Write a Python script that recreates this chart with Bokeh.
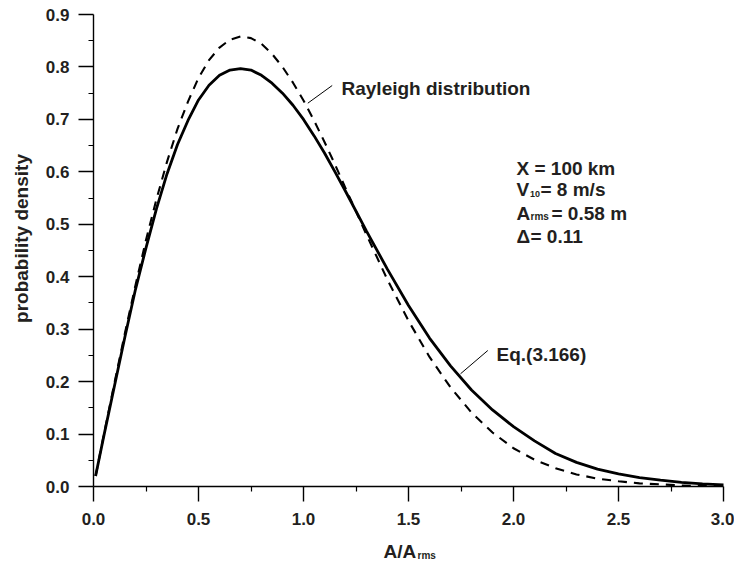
import math
from bokeh.plotting import figure
from bokeh.models import Range1d, FixedTicker, PrintfTickFormatter, Label
from bokeh.embed import file_html
from bokeh.resources import INLINE

# ---- data ----
x_vals = [0.01, 0.05, 0.1, 0.15, 0.2, 0.25, 0.3, 0.35, 0.4, 0.45, 0.5, 0.55, 0.6,
          0.65, 0.7, 0.75, 0.8, 0.85, 0.9, 0.95, 1.0, 1.05, 1.1, 1.15, 1.2, 1.3,
          1.4, 1.5, 1.6, 1.7, 1.8, 1.9, 2.0, 2.1, 2.2, 2.3, 2.4, 2.5, 2.6, 2.7,
          2.8, 2.9, 3.0]
eq_vals = [0.02, 0.098, 0.192, 0.286, 0.376, 0.455, 0.530, 0.596, 0.652, 0.698,
           0.737, 0.765, 0.784, 0.794, 0.797, 0.794, 0.784, 0.769, 0.750, 0.727,
           0.700, 0.669, 0.636, 0.600, 0.563, 0.487, 0.414, 0.345, 0.283, 0.230,
           0.184, 0.146, 0.114, 0.087, 0.063, 0.046, 0.033, 0.024, 0.017, 0.012,
           0.008, 0.005, 0.003]
rayleigh_vals = [0.02, 0.10, 0.198, 0.293, 0.384, 0.470, 0.548, 0.619, 0.682,
                 0.734, 0.779, 0.813, 0.837, 0.852, 0.858, 0.855, 0.844, 0.825,
                 0.800, 0.770, 0.736, 0.698, 0.657, 0.614, 0.569, 0.480, 0.394,
                 0.316, 0.247, 0.189, 0.141, 0.103, 0.073, 0.051, 0.035, 0.023,
                 0.015, 0.010, 0.006, 0.004, 0.002, 0.001, 0.001]
x_ticks = [0.0, 0.5, 1.0, 1.5, 2.0, 2.5, 3.0]
x_minor = [0.25, 0.75, 1.25, 1.75, 2.25, 2.75]
y_ticks = [0.0, 0.1, 0.2, 0.3, 0.4, 0.5, 0.6, 0.7, 0.8, 0.9]
y_minor = [0.05, 0.15, 0.25, 0.35, 0.45, 0.55, 0.65, 0.75, 0.85]

FONT = "Liberation Sans"
TXT = "#231f20"

W, H = 734, 561
FL, FT, FW, FH = 93, 14, 630, 472   # where the axes box sits on the canvas
XMAX, YMAX = 3.0, 0.9

def X(px):
    return (px - FL) / FW * XMAX

def Y(py):
    return (FT + FH - py) / FH * YMAX

# the frame fills the whole canvas; axes are pinned at x=0 / y=0
p = figure(width=W, height=H, output_backend="svg", toolbar_location=None,
           x_range=Range1d(X(0), X(W)), y_range=Range1d(Y(H), Y(0)))
p.min_border = 0
p.min_border_left = 0
p.min_border_right = 0
p.min_border_top = 0
p.min_border_bottom = 0
p.outline_line_color = None
p.xgrid.visible = False
p.ygrid.visible = False
p.background_fill_color = "white"
p.border_fill_color = "white"

p.line(x_vals, rayleigh_vals, line_color="black", line_width=2.1, line_dash="9 7")
p.line(x_vals, eq_vals, line_color="black", line_width=2.8)

# axes styling
for ax, ticks, minor, bnd in ((p.xaxis[0], x_ticks, x_minor, (0, XMAX)),
                              (p.yaxis[0], y_ticks, y_minor, (0, YMAX))):
    ax.fixed_location = 0
    ax.bounds = bnd
    ax.ticker = FixedTicker(ticks=ticks, minor_ticks=minor)
    ax.formatter = PrintfTickFormatter(format="%.1f")
    ax.axis_line_width = 1.4
    ax.axis_line_color = "black"
    ax.major_tick_line_width = 1.4
    ax.minor_tick_line_width = 1.2
    ax.major_tick_in = 0
    ax.major_tick_out = 15
    ax.minor_tick_in = 0
    ax.minor_tick_out = 5
    ax.major_label_text_font = FONT
    ax.major_label_text_font_style = "bold"
    ax.major_label_text_font_size = "17px"
    ax.major_label_text_color = TXT
p.xaxis[0].major_label_standoff = 11
p.yaxis[0].major_label_standoff = 9

def lab(px, py, text, size=19, **kw):
    p.add_layout(Label(x=X(px), y=Y(py), text=text, text_font=FONT,
                       text_font_style="bold", text_font_size=f"{size}px",
                       text_color=TXT, text_baseline="alphabetic", **kw))

# axis titles
lab(21, 238, "probability density", angle=math.pi / 2, text_align="center")
lab(383, 551, "A/A")
lab(417, 555, "rms", size=10)

# curve labels and leader lines
lab(341, 88, "Rayleigh distribution")
lab(496, 354, "Eq.(3.166)")
lead_x0 = [X(331.7), X(487.3)]
lead_y0 = [Y(85), Y(350)]
lead_x1 = [X(307.3), X(460)]
lead_y1 = [Y(102.7), Y(373.3)]
p.segment(lead_x0, lead_y0, lead_x1, lead_y1, line_color="black", line_width=1)

# parameter block
lab(516, 168, "X = 100 km")
lab(516, 188.5, "V")
lab(529.5, 193, "10", size=9)
lab(540, 188.5, "= 8 m/s")
lab(516, 212.5, "A")
lab(530, 216, "rms", size=10)
lab(551, 212.5, "= 0.58 m")
lab(516, 235.5, "\u0394")
lab(530, 235.5, "= 0.11")

open("out.html", "w").write(file_html(p, INLINE))
